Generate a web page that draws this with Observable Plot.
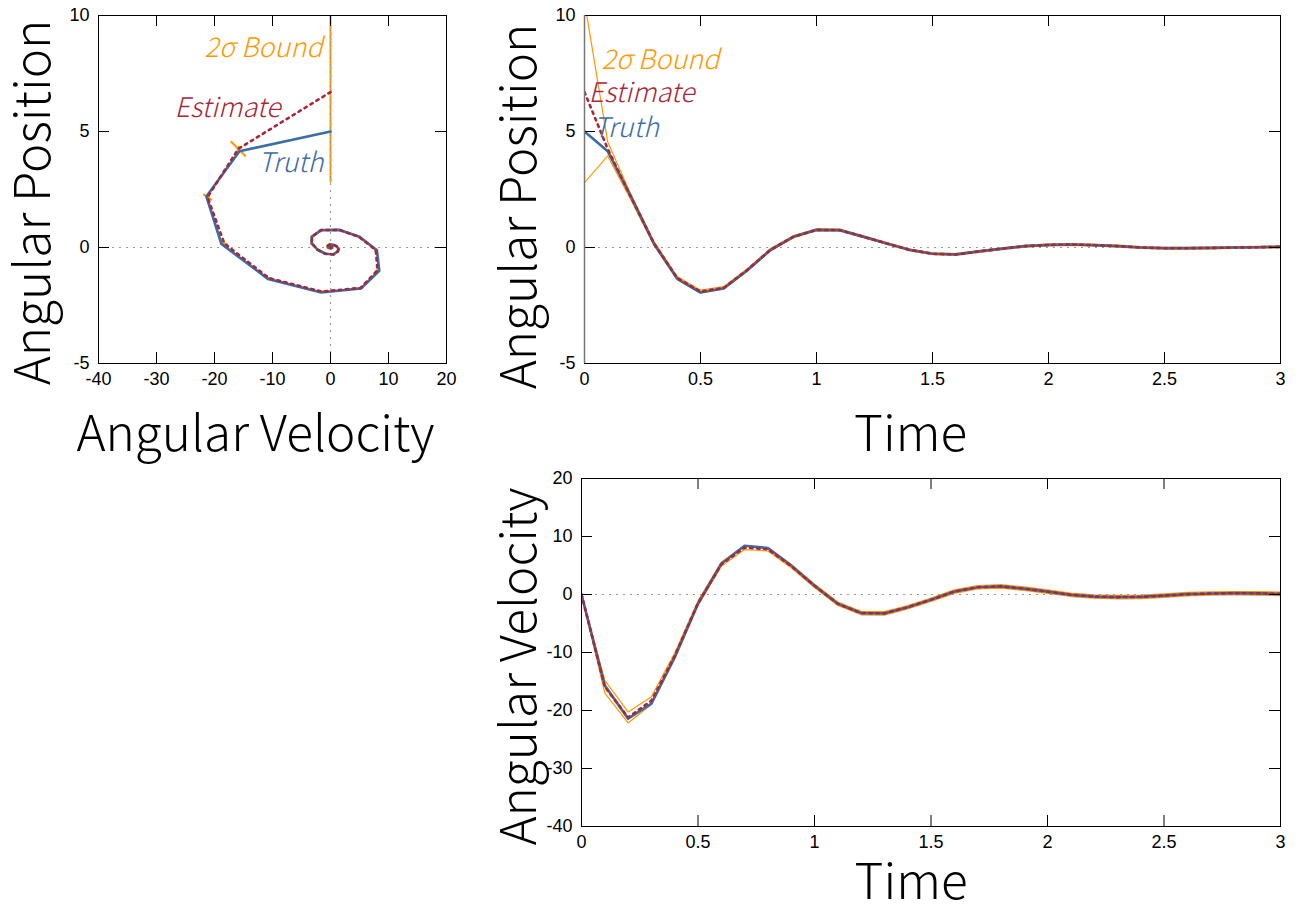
<!DOCTYPE html>
<html>
<head>
<meta charset="utf-8">
<script src="https://cdn.jsdelivr.net/npm/d3@7"></script>
<script src="https://cdn.jsdelivr.net/npm/@observablehq/plot@0.6"></script>
<style>
  html, body { margin: 0; padding: 0; background: #fff; }
  #wrap { position: relative; width: 1299px; height: 909px; overflow: hidden; background: #fff; }
  .panel { position: absolute; }
</style>
</head>
<body>
<div id="wrap"></div>
<script>
// ---- data ----
const time = [0, 0.1, 0.2, 0.3, 0.4, 0.5, 0.6, 0.7, 0.8, 0.9, 1.0, 1.1, 1.2, 1.3, 1.4, 1.5,
  1.6, 1.7, 1.8, 1.9, 2.0, 2.1, 2.2, 2.3, 2.4, 2.5, 2.6, 2.7, 2.8, 2.9, 3.0];
const truthPos = [5.0, 4.15, 2.2, 0.15, -1.35, -1.94, -1.76, -1.0, -0.12, 0.46, 0.76, 0.75, 0.47, 0.18, -0.1,
  -0.27, -0.3, -0.17, -0.05, 0.06, 0.11, 0.13, 0.1, 0.06, 0.0, -0.03, -0.03, -0.02, 0.0, 0.01, 0.03];
const truthVel = [0, -15.7, -21.4, -18.8, -10.8, -1.6, 5.3, 8.4, 8.0, 5.0, 1.5, -1.6, -3.2, -3.25, -2.2,
  -0.9, 0.5, 1.25, 1.4, 1.0, 0.5, -0.05, -0.35, -0.45, -0.4, -0.2, 0.05, 0.17, 0.22, 0.2, 0.1];
const estPos = [6.7, 4.25, 2.17, 0.17, -1.32, -1.9, -1.74, -0.98, -0.11, 0.46, 0.76, 0.75, 0.47, 0.18, -0.1,
  -0.27, -0.3, -0.17, -0.05, 0.06, 0.11, 0.13, 0.1, 0.06, 0.0, -0.03, -0.03, -0.02, 0.0, 0.01, 0.03];
const estVel = [0, -15.9, -21.2, -18.3, -10.6, -1.5, 5.2, 8.1, 7.8, 4.9, 1.5, -1.6, -3.2, -3.25, -2.2,
  -0.9, 0.5, 1.25, 1.4, 1.0, 0.5, -0.05, -0.35, -0.45, -0.4, -0.2, 0.05, 0.17, 0.22, 0.2, 0.1];
// 2-sigma half widths
const posSigma2 = [3.9, 0.3, 0.12, 0.08, 0.07, 0.06, 0.05, 0.05, 0.05, 0.05, 0.04, 0.04, 0.04, 0.04, 0.04,
  0.04, 0.04, 0.04, 0.04, 0.04, 0.04, 0.04, 0.04, 0.04, 0.04, 0.04, 0.04, 0.04, 0.04, 0.04, 0.04];
const velSigma2 = [0, 1.1, 0.95, 0.65, 0.5, 0.4, 0.35, 0.35, 0.3, 0.3, 0.3, 0.3, 0.3, 0.3, 0.3,
  0.3, 0.3, 0.3, 0.3, 0.3, 0.3, 0.3, 0.3, 0.3, 0.3, 0.3, 0.3, 0.3, 0.3, 0.3, 0.3];
// covariance ellipse axes in phase space (half lengths: velocity, position)
const majorDv = [0, 1.3, 0.75, 0.55, 0.45, 0.4, 0.35, 0.3, 0.3, 0.3, 0.3, 0.3, 0.3, 0.3, 0.3,
  0.3, 0.3, 0.3, 0.3, 0.3, 0.3, 0.3, 0.3, 0.3, 0.3, 0.3, 0.3, 0.3, 0.3, 0.3, 0.3];
const majorDp = [3.9, -0.33, -0.13, -0.04, 0, 0.02, 0.03, 0.03, 0.02, 0.01, 0, 0, 0, 0, 0,
  0, 0, 0, 0, 0, 0, 0, 0, 0, 0, 0, 0, 0, 0, 0, 0];
const minorDv = [0, 0.2, 0.12, 0.05, 0.03, 0.02, 0.02, 0.02, 0.02, 0.02, 0.02, 0.02, 0.02, 0.02, 0.02,
  0.02, 0.02, 0.02, 0.02, 0.02, 0.02, 0.02, 0.02, 0.02, 0.02, 0.02, 0.02, 0.02, 0.02, 0.02, 0.02];
const minorDp = [0, 0.12, 0.07, 0.05, 0.04, 0.04, 0.03, 0.03, 0.03, 0.03, 0.03, 0.03, 0.03, 0.03, 0.03,
  0.03, 0.03, 0.03, 0.03, 0.03, 0.03, 0.03, 0.03, 0.03, 0.03, 0.03, 0.03, 0.03, 0.03, 0.03, 0.03];

const phaseXTicks = [-40, -30, -20, -10, 0, 10, 20];
const posTicks = [-5, 0, 5, 10];
const timeTicks = [0, 0.5, 1, 1.5, 2, 2.5, 3];
const velTicks = [-40, -30, -20, -10, 0, 10, 20];

const seriesLabels = ["2σ Bound", "Estimate", "Truth"];
const axisTitles = {pos: "Angular Position", vel: "Angular Velocity", time: "Time"};

// ---- styles ----
const C_BOUND = "#ff9900", C_EST = "#a8283a", C_TRUTH = "#3a6ea5", C_ZERO = "#999999";
const TICK_FONT = "'Liberation Sans', Arial, sans-serif";
const TITLE_FONT = "'Noto Sans CJK JP Light', 'Noto Sans CJK JP DemiLight', 'Noto Sans CJK JP', 'Noto Sans', sans-serif";

const rows = time.map((t, i) => ({
  t, tp: truthPos[i], tv: truthVel[i], ep: estPos[i], ev: estVel[i],
  pHi: estPos[i] + posSigma2[i], pLo: estPos[i] - posSigma2[i],
  vHi: estVel[i] + velSigma2[i], vLo: estVel[i] - velSigma2[i],
  a1v: estVel[i] - majorDv[i], a1p: estPos[i] - majorDp[i],
  a2v: estVel[i] + majorDv[i], a2p: estPos[i] + majorDp[i],
  b1v: estVel[i] - minorDv[i], b1p: estPos[i] - minorDp[i],
  b2v: estVel[i] + minorDv[i], b2p: estPos[i] + minorDp[i]
}));

const TICK = 11;

function frameMarks(xt, yt, pw, ph) {
  return [
    Plot.tickX(xt, {x: d => d, insetTop: ph - TICK, stroke: "#000", strokeWidth: 1}),
    Plot.tickX(xt, {x: d => d, insetBottom: ph - TICK, stroke: "#000", strokeWidth: 1}),
    Plot.tickY(yt, {y: d => d, insetRight: pw - TICK, stroke: "#000", strokeWidth: 1}),
    Plot.tickY(yt, {y: d => d, insetLeft: pw - TICK, stroke: "#000", strokeWidth: 1}),
    Plot.frame({stroke: "#000", strokeWidth: 1}),
    Plot.axisX({ticks: xt, tickSize: 0, tickPadding: 9, fontSize: 18, tickFormat: d => String(d), label: null, fontFamily: TICK_FONT, fill: "#000"}),
    Plot.axisY({ticks: yt, tickSize: 0, tickPadding: 9, fontSize: 18, tickFormat: d => String(d), label: null, fontFamily: TICK_FONT, fill: "#000"})
  ];
}

function titleX(text, dx, dy) {
  return Plot.text([text], {frameAnchor: "bottom", dx, dy, fontSize: 49.5, fontFamily: TITLE_FONT, fontWeight: 300, fill: "#000", textAnchor: "middle", lineAnchor: "middle"});
}
function titleY(text, dx, dy) {
  return Plot.text([text], {frameAnchor: "left", dx, dy, rotate: -90, fontSize: 49.5, fontFamily: TITLE_FONT, fontWeight: 300, fill: "#000", textAnchor: "middle", lineAnchor: "middle"});
}
function seriesLabel(text, color, anchor, dx, dy) {
  return Plot.text([text], {frameAnchor: "top-left", dx, dy, fontSize: 27, fontFamily: TITLE_FONT, fontWeight: 300, fontStyle: "italic", fill: color, textAnchor: anchor, lineAnchor: "middle"});
}

function place(svg, left, top) {
  const d = document.createElement("div");
  d.className = "panel";
  d.style.left = left + "px";
  d.style.top = top + "px";
  d.appendChild(svg);
  document.getElementById("wrap").appendChild(d);
}

// ---- panel 1: phase plot ----
{
  const W = 470, H = 460, mL = 98, mR = 24, mT = 15, mB = 97;
  const pw = W - mL - mR, ph = H - mT - mB;
  const svg = Plot.plot({
    width: W, height: H, marginLeft: mL, marginRight: mR, marginTop: mT, marginBottom: mB,
    style: {background: "transparent", overflow: "visible"},
    x: {domain: [-40, 20], axis: null},
    y: {domain: [-5, 10], axis: null},
    marks: [
      Plot.link(rows, {x1: "a1v", y1: "a1p", x2: "a2v", y2: "a2p", stroke: C_BOUND, strokeWidth: 2, clip: true}),
      Plot.link(rows, {x1: "b1v", y1: "b1p", x2: "b2v", y2: "b2p", stroke: C_BOUND, strokeWidth: 2, clip: true}),
      Plot.ruleY([0], {stroke: C_ZERO, strokeDasharray: "2,5", strokeWidth: 1.2}),
      Plot.ruleX([0], {stroke: C_ZERO, strokeDasharray: "2,5", strokeWidth: 1.2}),
      Plot.line(rows, {x: "tv", y: "tp", stroke: C_TRUTH, strokeWidth: 2.7, clip: true}),
      Plot.line(rows, {x: "ev", y: "ep", stroke: C_EST, strokeWidth: 2.6, strokeDasharray: "2.5,4.5", clip: true}),
      ...frameMarks(phaseXTicks, posTicks, pw, ph),
      titleX(axisTitles.vel, -17, 72),
      titleY(axisTitles.pos, -64, 13),
      seriesLabel(seriesLabels[0], C_BOUND, "end", 224, 33),
      seriesLabel(seriesLabels[1], C_EST, "end", 182, 93),
      seriesLabel(seriesLabels[2], C_TRUTH, "end", 225, 148)
    ]
  });
  place(svg, 0, 0);
}

// ---- panel 2: position vs time ----
{
  const W = 819, H = 460, mL = 104, mR = 19, mT = 15, mB = 97;
  const pw = W - mL - mR, ph = H - mT - mB;
  const svg = Plot.plot({
    width: W, height: H, marginLeft: mL, marginRight: mR, marginTop: mT, marginBottom: mB,
    style: {background: "transparent", overflow: "visible"},
    x: {domain: [0, 3], axis: null},
    y: {domain: [-5, 10], axis: null},
    marks: [
      Plot.line(rows, {x: "t", y: "pHi", stroke: C_BOUND, strokeWidth: 1.2, clip: true}),
      Plot.line(rows, {x: "t", y: "pLo", stroke: C_BOUND, strokeWidth: 1.2, clip: true}),
      Plot.ruleY([0], {stroke: C_ZERO, strokeDasharray: "2,5", strokeWidth: 1.2}),
      Plot.line(rows, {x: "t", y: "tp", stroke: C_TRUTH, strokeWidth: 2.7, clip: true}),
      Plot.line(rows, {x: "t", y: "ep", stroke: C_EST, strokeWidth: 2.6, strokeDasharray: "2.5,4.5", clip: true}),
      ...frameMarks(timeTicks, posTicks, pw, ph),
      Plot.ruleX([0], {stroke: "#777", strokeWidth: 1.5}),
      titleX(axisTitles.time, -22, 72),
      titleY(axisTitles.pos, -64, 17),
      seriesLabel(seriesLabels[0], C_BOUND, "start", 17, 45),
      seriesLabel(seriesLabels[1], C_EST, "start", 4, 78),
      seriesLabel(seriesLabels[2], C_TRUTH, "start", 9, 113)
    ]
  });
  place(svg, 480, 0);
}

// ---- panel 3: velocity vs time ----
{
  const W = 819, H = 449, mL = 101, mR = 19, mT = 18, mB = 83;
  const pw = W - mL - mR, ph = H - mT - mB;
  const svg = Plot.plot({
    width: W, height: H, marginLeft: mL, marginRight: mR, marginTop: mT, marginBottom: mB,
    style: {background: "transparent", overflow: "visible"},
    x: {domain: [0, 3], axis: null},
    y: {domain: [-40, 20], axis: null},
    marks: [
      Plot.line(rows, {x: "t", y: "vHi", stroke: C_BOUND, strokeWidth: 1.2, clip: true}),
      Plot.line(rows, {x: "t", y: "vLo", stroke: C_BOUND, strokeWidth: 1.2, clip: true}),
      Plot.ruleY([0], {stroke: C_ZERO, strokeDasharray: "2,5", strokeWidth: 1.2}),
      Plot.line(rows, {x: "t", y: "tv", stroke: C_TRUTH, strokeWidth: 2.7, clip: true}),
      Plot.line(rows, {x: "t", y: "ev", stroke: C_EST, strokeWidth: 2.6, strokeDasharray: "2.5,4.5", clip: true}),
      ...frameMarks(timeTicks, velTicks, pw, ph),
      titleX(axisTitles.time, -20, 57),
      titleY(axisTitles.vel, -61, 14)
    ]
  });
  place(svg, 480, 460);
}
</script>
</body>
</html>
